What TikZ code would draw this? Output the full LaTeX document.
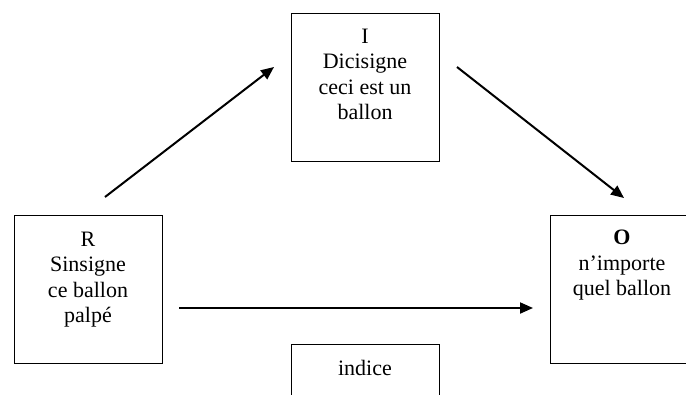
\documentclass[tikz,border=0pt]{standalone}
\usepackage{fontspec}
\setmainfont{Liberation Serif}
\usetikzlibrary{arrows.meta}
\begin{document}
\begin{tikzpicture}[x=1pt,y=-1pt,
  box/.style={draw,line width=1.3pt,minimum width=148pt,minimum height=148pt,inner sep=0pt,anchor=north west},
  txt/.style={align=center,inner sep=0pt,anchor=north,font=\fontsize{22}{25.5}\selectfont},
  arr/.style={line width=2pt,-{Triangle[length=13pt,width=11pt]}}]
\clip (0,0) rectangle (686,394);
\fill[white] (0,0) rectangle (686,394);
% boxes
\node[box] (R) at (14,215) {};
\node[box] (I) at (291,13) {};
\node[box] (O) at (550,215) {};
\node[box] (X) at (291,344) {};
% texts
\node[txt] (Rt) at (88,231.5) {R\\Sinsigne\\ce ballon\\palpé};
\node[txt] (It) at (365,28.5) {I\\Dicisigne\\ceci est un\\ballon};
\node[txt] (Ot) at (622,230) {\textbf{O}\\n’importe\\quel ballon};
\node[txt] (Xt) at (365,360) {indice};
% connectors
\coordinate (a1) at (105,197);
\coordinate (a2) at (274,67);
\coordinate (b1) at (457,67);
\coordinate (b2) at (624,198);
\coordinate (c1) at (179,308);
\coordinate (c2) at (533,308);
\draw[arr] (a1) -- (a2);
\draw[arr] (b1) -- (b2);
\draw[arr] (c1) -- (c2);
\end{tikzpicture}
\end{document}
